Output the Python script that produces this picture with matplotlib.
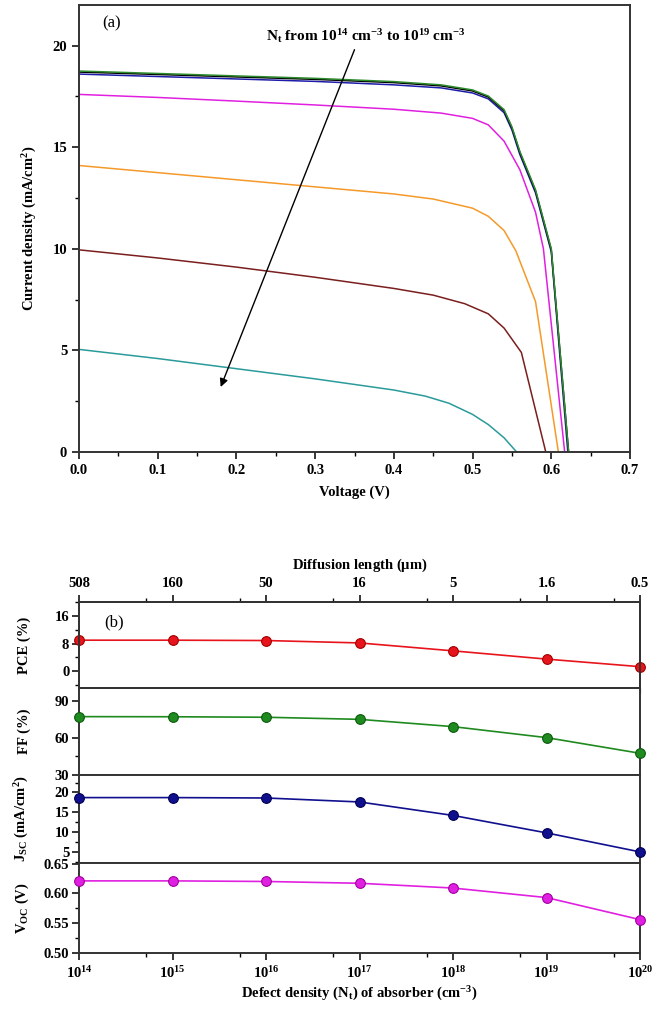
import math
import matplotlib
matplotlib.use("Agg")
import matplotlib.pyplot as plt
from matplotlib.ticker import FixedLocator, MultipleLocator, NullFormatter

plt.rcParams['font.family'] = ['Liberation Serif', 'DejaVu Serif']
plt.rcParams['font.weight'] = 'bold'
plt.rcParams['mathtext.fontset'] = 'custom'
plt.rcParams['mathtext.rm'] = 'Liberation Serif'
plt.rcParams['mathtext.bf'] = 'Liberation Serif:bold'
plt.rcParams['mathtext.it'] = 'Liberation Serif:italic:bold'
plt.rcParams['mathtext.default'] = 'bf'

# ---------------- Panel (a) data: J-V curves ----------------
v_1e14 = [0, 0.1, 0.2, 0.3, 0.4, 0.46, 0.50, 0.52, 0.54, 0.55, 0.56, 0.58, 0.60, 0.622]
j_1e14 = [18.75, 18.63, 18.51, 18.39, 18.23, 18.07, 17.82, 17.52, 16.85, 16.0, 14.8, 12.9, 10.0, 0]
v_1e15 = [0, 0.1, 0.2, 0.3, 0.4, 0.46, 0.50, 0.52, 0.54, 0.55, 0.56, 0.58, 0.60, 0.622]
j_1e15 = [18.70, 18.58, 18.46, 18.34, 18.18, 18.02, 17.77, 17.47, 16.8, 15.95, 14.75, 12.85, 9.95, 0]
v_1e16 = [0, 0.1, 0.2, 0.3, 0.4, 0.46, 0.50, 0.52, 0.54, 0.55, 0.56, 0.58, 0.60, 0.621]
j_1e16 = [18.60, 18.48, 18.36, 18.24, 18.07, 17.92, 17.67, 17.38, 16.7, 15.85, 14.65, 12.75, 9.85, 0]
v_1e17 = [0, 0.1, 0.2, 0.3, 0.4, 0.46, 0.50, 0.52, 0.54, 0.56, 0.58, 0.59, 0.617]
j_1e17 = [17.6, 17.45, 17.27, 17.08, 16.87, 16.68, 16.42, 16.1, 15.3, 13.9, 11.8, 10.0, 0]
v_1e18 = [0, 0.1, 0.2, 0.3, 0.4, 0.45, 0.50, 0.52, 0.54, 0.555, 0.58, 0.609]
j_1e18 = [14.1, 13.75, 13.4, 13.05, 12.7, 12.45, 12.0, 11.6, 10.9, 9.9, 7.4, 0]
v_1e19 = [0, 0.1, 0.2, 0.3, 0.4, 0.45, 0.49, 0.52, 0.54, 0.562, 0.593]
j_1e19 = [9.95, 9.55, 9.1, 8.6, 8.05, 7.72, 7.3, 6.8, 6.1, 4.9, 0]
v_1e20 = [0, 0.1, 0.2, 0.3, 0.4, 0.44, 0.47, 0.50, 0.52, 0.54, 0.556]
j_1e20 = [5.05, 4.6, 4.1, 3.6, 3.05, 2.75, 2.4, 1.85, 1.35, 0.7, 0]

curves = [
    (v_1e16, j_1e16, '#1c1ca8'),
    (v_1e15, j_1e15, '#000000'),
    (v_1e14, j_1e14, '#2e8b2e'),
    (v_1e17, j_1e17, '#e020e0'),
    (v_1e18, j_1e18, '#f59a2a'),
    (v_1e19, j_1e19, '#7a1e1e'),
    (v_1e20, j_1e20, '#2a9a9a'),
]

# ---------------- Panel (b) data ----------------
defect_density = [1e14, 1e15, 1e16, 1e17, 1e18, 1e19, 1e20]
diffusion_labels = ['508', '160', '50', '16', '5', '1.6', '0.5']
pce = [9.0, 9.0, 8.9, 8.2, 5.9, 3.5, 1.3]
ff = [77.3, 77.2, 76.8, 75.1, 69.2, 60.3, 47.6]
jsc = [18.7, 18.7, 18.6, 17.6, 14.2, 9.8, 5.0]
voc = [0.621, 0.621, 0.620, 0.617, 0.609, 0.593, 0.556]

fig = plt.figure(figsize=(6.65, 10.14), dpi=100)

LBL = 10.5
TCK = 10.5

# ---------------- Panel (a) ----------------
ax = fig.add_axes([79/665, 1-452/1014, (630-79)/665, (452-5)/1014])
for v, j, c in curves:
    ax.plot(v, j, color=c, lw=1.1)
ax.set_xlim(0, 0.7)
ax.set_ylim(0, 22)
ax.xaxis.set_major_locator(MultipleLocator(0.1))
ax.xaxis.set_minor_locator(MultipleLocator(0.05))
ax.yaxis.set_major_locator(MultipleLocator(5))
ax.yaxis.set_minor_locator(MultipleLocator(2.5))
ax.xaxis.set_major_formatter(plt.FuncFormatter(lambda x, p: f"{x:.1f}"))
ax.tick_params(which='major', direction='out', length=5, width=1.1, labelsize=TCK)
ax.tick_params(which='minor', direction='out', length=3, width=1.0)
for s in ax.spines.values():
    s.set_linewidth(1.4)
    s.set_color('#333333')
ax.set_xlabel('Voltage (V)', fontsize=LBL, fontweight='bold', labelpad=6)
ax.set_ylabel('Current density (mA/cm$^{2}$)', fontsize=LBL, fontweight='bold', labelpad=10)
ax.text(0.03, 20.9, '(a)', fontsize=12, fontweight='normal')
ax.text(0.364, 20.45, r'N$_{t}$ from 10$^{14}$ cm$^{-3}$ to 10$^{19}$ cm$^{-3}$',
        fontsize=11, fontweight='bold', ha='center', va='center')
ax.annotate('', xy=(0.18, 3.2), xytext=(0.35, 19.8),
            arrowprops=dict(arrowstyle='-|>', color='black', lw=1.0,
                            mutation_scale=12, shrinkA=0, shrinkB=0))

# ---------------- Panel (b) ----------------
L = 79/665
W = (640-79)/665
rows = [  # (top px, bottom px)
    (602, 688),
    (688, 775),
    (775, 863),
    (863, 953),
]
axes = []
for top_px, bot_px in rows:
    a = fig.add_axes([L, 1-bot_px/1014, W, (bot_px-top_px)/1014])
    axes.append(a)

series = [
    (pce, '#e8141c', '#a00000', (-4.9, 20.1), [0, 8, 16], [-4, 4, 12, 20], 'PCE (%)'),
    (ff, '#1f8a1f', '#0b5a0b', (30, 100.5), [30, 60, 90], [45, 75], 'FF (%)'),
    (jsc, '#10108f', '#000050', (2.2, 24.4), [5, 10, 15, 20], [2.5, 7.5, 12.5, 17.5, 22.5], r'J$_{SC}$ (mA/cm$^{2}$)'),
    (voc, '#e020e0', '#a000a0', (0.50, 0.651), [0.50, 0.55, 0.60, 0.65], [0.525, 0.575, 0.625], r'V$_{OC}$ (V)'),
]

minor_x = [10**(n + 0.72) for n in range(14, 20)]

for i, (a, (vals, col, ecol, ylim, maj, mnr, lab)) in enumerate(zip(axes, series)):
    a.plot(defect_density, vals, color=col, lw=1.2, zorder=2)
    a.plot(defect_density, vals, 'o', ms=7, mfc=col, mec=ecol, mew=0.8, zorder=3, clip_on=False)
    a.set_xscale('log')
    a.set_xlim(1e14, 1e20)
    a.set_ylim(*ylim)
    a.yaxis.set_major_locator(FixedLocator(maj))
    a.yaxis.set_minor_locator(FixedLocator(mnr))
    if i == 3:
        a.yaxis.set_major_formatter(plt.FuncFormatter(lambda y, p: f"{y:.2f}"))
    else:
        a.yaxis.set_major_formatter(plt.FuncFormatter(lambda y, p: f"{y:g}"))
    a.tick_params(axis='y', which='major', direction='out', length=5, width=1.1, labelsize=TCK, pad=2)
    a.tick_params(axis='y', which='minor', direction='out', length=3, width=1.0)
    a.xaxis.set_major_locator(FixedLocator(defect_density))
    a.xaxis.set_minor_locator(FixedLocator(minor_x))
    if i < 3:
        a.tick_params(axis='x', which='both', bottom=False, labelbottom=False)
    else:
        a.xaxis.set_major_formatter(plt.FuncFormatter(lambda x, p: r'$10^{%d}$' % round(math.log10(x))))
        a.xaxis.set_minor_formatter(NullFormatter())
        a.tick_params(axis='x', which='major', direction='out', length=5, width=1.1, labelsize=TCK)
        a.tick_params(axis='x', which='minor', direction='out', length=3, width=1.0)
    for s in a.spines.values():
        s.set_linewidth(1.4)
        s.set_color('#333333')
    a.set_ylabel(lab, fontsize=LBL, fontweight='bold')
    a.yaxis.set_label_coords(-0.085, 0.5)

axes[0].text(0.045, 0.72, '(b)', transform=axes[0].transAxes, fontsize=12, fontweight='normal')
axes[3].set_xlabel(r'Defect density (N$_{t}$) of absorber (cm$^{-3}$)', fontsize=LBL, fontweight='bold', labelpad=3)

# top axis: diffusion length
top = axes[0].twiny()
top.set_xscale('log')
top.set_xlim(1e14, 1e20)
top.xaxis.set_major_locator(FixedLocator(defect_density))
top.xaxis.set_minor_locator(FixedLocator(minor_x))
top.set_xticklabels(diffusion_labels)
top.xaxis.set_minor_formatter(NullFormatter())
top.tick_params(axis='x', which='major', direction='out', length=5, width=1.1, labelsize=TCK)
top.tick_params(axis='x', which='minor', direction='out', length=3, width=1.0)
top.set_xlabel(r'Diffusion length ($\mu$m)', fontsize=LBL, fontweight='bold', labelpad=6)
for s in top.spines.values():
    s.set_linewidth(1.4)
    s.set_color('#333333')

fig.savefig('out.png', dpi=100)
